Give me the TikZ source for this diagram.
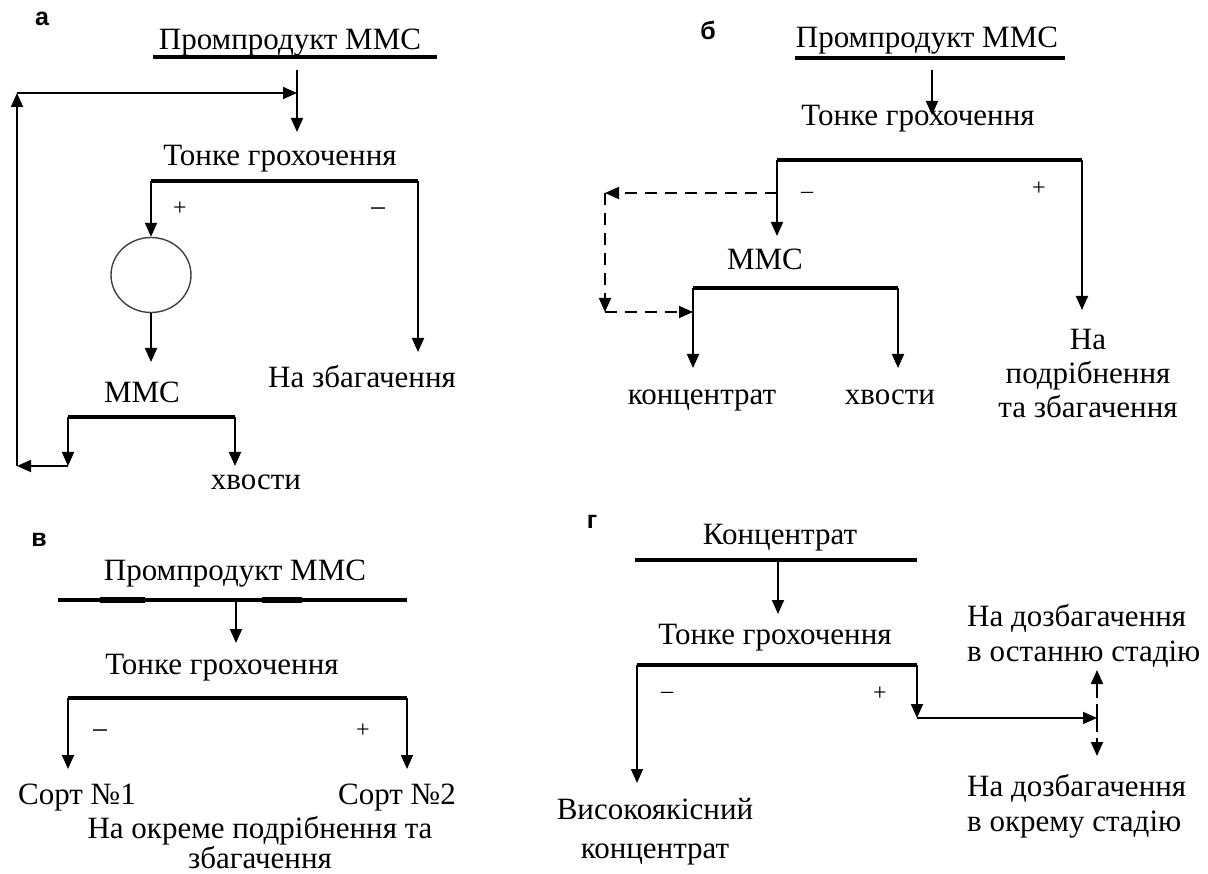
\documentclass[tikz,border=0pt]{standalone}
\usepackage{fontspec}
\setmainfont{Liberation Serif}
\newfontfamily\lblfont{Liberation Sans}
\usetikzlibrary{arrows.meta,shapes.geometric}
\begin{document}
\begin{tikzpicture}[x=1pt,y=-1pt,
  txt/.style={font=\fontsize{31}{34}\selectfont, inner sep=0pt, align=center},
  one/.style={txt, text height=22pt, text depth=7pt},
  sgn/.style={font=\fontsize{24}{26}\selectfont, inner sep=0pt},
  msgn/.style={font=\fontsize{30}{32}\selectfont, inner sep=0pt},
  lbl/.style={font=\lblfont\bfseries\fontsize{25}{28}\selectfont, inner sep=0pt},
  bar/.style={line width=4.5pt},
  flow/.style={line width=1.8pt, -{Triangle[width=12pt,length=14pt]}},
  dflow/.style={flow, dash pattern=on 12pt off 8pt},
  ln/.style={line width=1.8pt}
]
\useasboundingbox (0,0) rectangle (1208,874);

% ---------- panel a ----------
\node[lbl] (la) at (42,19) {а};
\node[one] (a1) at (290,42) {Промпродукт ММС};
\coordinate (a1L) at (153,57); \coordinate (a1R) at (437,57);
\draw[bar] (a1L) -- (a1R);
\coordinate (a1s) at (297,70); \coordinate (a2in) at (297,132);
\draw[flow] (a1s) -- (a2in);
\node[one] (a2) at (280,158) {Тонке грохочення};
\coordinate (a2L) at (151,181); \coordinate (a2R) at (418,181);
\draw[bar] (a2L) -- (a2R);
\node[sgn] (ap) at (180,209) {+};
\node[msgn] (am) at (378,213) {−};
\node[draw, ellipse, minimum width=80pt, minimum height=75pt, line width=1.4pt, draw=black!75] (ac) at (151,275) {};
\draw[flow] (a2L) -- (ac.north);
\coordinate (a3in) at (151,362);
\draw[flow] (ac.south) -- (a3in);
\node[one] (a3) at (142,395) {ММС};
\coordinate (a3L) at (68,417); \coordinate (a3R) at (235,417);
\draw[bar] (a3L) -- (a3R);
\coordinate (a3Lo) at (68,466); \coordinate (a3Ro) at (235,466);
\draw[flow] (a3L) -- (a3Lo);
\draw[flow] (a3R) -- (a3Ro);
\node[one] (atail) at (256,482) {хвости};
\coordinate (aret1) at (17,466); \coordinate (aret2) at (17,93); \coordinate (aret3) at (297,93);
\draw[flow] (a3Lo) -- (aret1);
\draw[flow] (aret1) -- (aret2);
\draw[flow] (aret2) -- (aret3);
\coordinate (a4in) at (418,352);
\draw[flow] (a2R) -- (a4in);
\node[one] (a4) at (362,380) {На збагачення};

% ---------- panel b ----------
\node[lbl] (lb) at (708,30) {б};
\node[one] (b1) at (927,40) {Промпродукт ММС};
\coordinate (b1L) at (795,58); \coordinate (b1R) at (1065,58);
\draw[bar] (b1L) -- (b1R);
\coordinate (b1s) at (932,70); \coordinate (b2in) at (932,115);
\node[one] (b2) at (918,118) {Тонке грохочення};
\draw[flow] (b1s) -- (b2in);
\coordinate (b2L) at (777,160); \coordinate (b2R) at (1082,160);
\draw[bar] (b2L) -- (b2R);
\node[sgn] (bm) at (807,195) {–};
\node[sgn] (bp) at (1039,189) {+};
\coordinate (b3in) at (777,236);
\draw[flow] (b2L) -- (b3in);
\coordinate (bd0) at (777,193); \coordinate (bd1) at (605,193); \coordinate (bd2) at (605,312);
\draw[dflow] (bd0) -- (bd1);
\draw[dflow] (bd1) -- (bd2);
\node[one] (b3) at (765,262) {ММС};
\coordinate (b3L) at (693,288); \coordinate (b3R) at (898,288);
\coordinate (bd3) at (693,312);
\draw[dflow] (bd2) -- (bd3);
\draw[bar] (b3L) -- (b3R);
\coordinate (b3Lo) at (693,368); \coordinate (b3Ro) at (898,368);
\draw[flow] (b3L) -- (b3Lo);
\draw[flow] (b3R) -- (b3Ro);
\node[one] (bconc) at (702,397) {концентрат};
\node[one] (btail) at (890,397) {хвости};
\coordinate (b4in) at (1082,310);
\draw[flow] (b2R) -- (b4in);
\node[txt] (b4) at (1088,374) {На\\подрібнення\\та збагачення};

% ---------- panel v ----------
\node[lbl] (lv) at (39,540) {в};
\node[one] (v1) at (235,573) {Промпродукт ММС};
\coordinate (v1L) at (58,600); \coordinate (v1R) at (407,600);
\draw[line width=3.5pt] (v1L) -- (v1R);
\draw[line width=5.5pt] (100,600) -- (145,600);
\draw[line width=5.5pt] (262,600) -- (302,600);
\coordinate (v1s) at (236,600); \coordinate (v2in) at (236,643);
\draw[flow] (v1s) -- (v2in);
\node[one] (v2) at (222,667) {Тонке грохочення};
\coordinate (v2L) at (68,698); \coordinate (v2R) at (407,698);
\draw[bar] (v2L) -- (v2R);
\node[msgn] (vm) at (100,735) {−};
\node[sgn] (vp) at (363,731) {+};
\coordinate (v3in) at (68,769); \coordinate (v4in) at (407,769);
\draw[flow] (v2L) -- (v3in);
\draw[flow] (v2R) -- (v4in);
\node[one] (v3) at (77,797) {Сорт №1};
\node[one] (v4) at (397,797) {Сорт №2};
\node[txt, font=\fontsize{31}{30}\selectfont] (v5) at (260,843) {На окреме подрібнення та\\збагачення};

% ---------- panel g ----------
\node[lbl] (lg) at (592,522) {г};
\node[one] (g1) at (780,537) {Концентрат};
\coordinate (g1L) at (635,560); \coordinate (g1R) at (917,560);
\draw[bar] (g1L) -- (g1R);
\coordinate (g1s) at (778,560); \coordinate (g2in) at (778,614);
\draw[flow] (g1s) -- (g2in);
\node[one] (g2) at (775,637) {Тонке грохочення};
\coordinate (g2L) at (637,665); \coordinate (g2R) at (917,665);
\draw[bar] (g2L) -- (g2R);
\node[sgn] (gm) at (667,695) {–};
\node[sgn] (gp) at (880,694) {+};
\coordinate (g3in) at (637,783);
\draw[flow] (g2L) -- (g3in);
\node[txt, font=\fontsize{31}{39}\selectfont] (g3) at (655,832) {Високоякісний\\концентрат};
\coordinate (gk) at (917,718); \coordinate (gsp) at (1097,718);
\draw[flow] (g2R) -- (gk);
\draw[flow] (gk) -- (gsp);
\coordinate (gup) at (1097,670); \coordinate (gdn) at (1097,756);
\draw[dflow, dash pattern=on 14pt off 6pt] (gsp) -- (gup);
\draw[dflow, dash pattern=on 14pt off 6pt] (gsp) -- (gdn);
\node[txt, align=left, anchor=west, font=\fontsize{31}{35}\selectfont] (g4) at (967,636) {На дозбагачення\\в останню стадію};
\node[txt, align=left, anchor=west, font=\fontsize{31}{35}\selectfont] (g5) at (967,806) {На дозбагачення\\в окрему стадію};
\end{tikzpicture}
\end{document}
